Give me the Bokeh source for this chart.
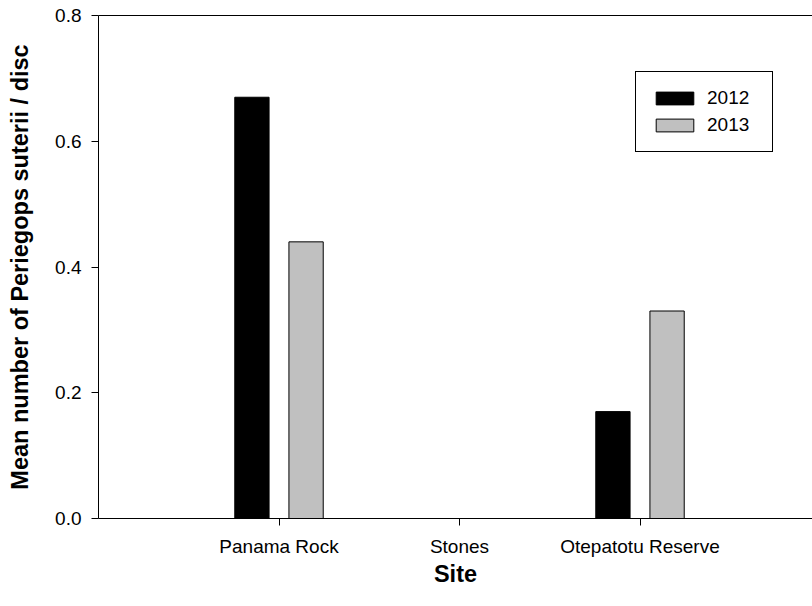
from bokeh.plotting import figure
from bokeh.models import (Range1d, FixedTicker, LinearAxis, Legend, LegendItem)
from bokeh.embed import file_html
from bokeh.resources import INLINE
import numpy as np

sites = ["Panama Rock", "Stones", "Otepatotu Reserve"]
years = ["2012", "2013"]
vals_2012 = [0.67, 0.0, 0.17]
vals_2013 = [0.44, 0.0, 0.33]
y_ticks = [0.0, 0.2, 0.4, 0.6, 0.8]
y_tick_labels = ["0.0", "0.2", "0.4", "0.6", "0.8"]
colors = ["#000000", "#C0C0C0"]

FONT = "Liberation Sans"
W, H = 812, 606
LEFT, BOTTOM, TOP = 98, 88, 15
px_per_unit = 180.5
frame_w = W - LEFT

pos = np.arange(1, len(sites) + 1, dtype=float)

p = figure(width=W, height=H, output_backend="svg", toolbar_location=None,
           x_range=Range1d(0, frame_w / px_per_unit), y_range=Range1d(0, 0.8),
           min_border_left=LEFT, min_border_right=0, min_border_bottom=BOTTOM,
           min_border_top=TOP)
p.outline_line_color = None
p.xgrid.visible = False
p.ygrid.visible = False
p.background_fill_color = "white"
p.border_fill_color = "white"

offset = 0.15
bw = 0.19
r1 = p.vbar(x=pos - offset, top=vals_2012, width=bw, bottom=0,
            fill_color=colors[0], line_color="black", line_width=1)
r2 = p.vbar(x=pos + offset, top=vals_2013, width=bw, bottom=0,
            fill_color=colors[1], line_color="black", line_width=1)

xa = p.xaxis[0]
xa.ticker = FixedTicker(ticks=list(pos))
xa.major_label_overrides = {float(v): s for v, s in zip(pos, sites)}
xa.major_label_overrides.update({int(v): s for v, s in zip(pos, sites)})
xa.axis_label = "Site"
ya = p.yaxis[0]
ya.ticker = FixedTicker(ticks=y_ticks)
ya.major_label_overrides = {v: s for v, s in zip(y_ticks, y_tick_labels)}
ya.axis_label = "Mean number of Periegops suterii / disc"

for ax in (xa, ya):
    ax.axis_line_color = "black"
    ax.axis_line_width = 1
    ax.major_tick_line_color = "black"
    ax.major_tick_out = 7
    ax.major_tick_in = 0
    ax.minor_tick_line_color = None
    ax.major_label_text_font = FONT
    ax.major_label_text_font_size = "19px"
    ax.major_label_text_color = "black"
    ax.axis_label_text_font = FONT
    ax.axis_label_text_font_size = "23.5px"
    ax.axis_label_text_font_style = "bold"
    ax.axis_label_text_color = "black"
    ax.major_label_standoff = 10

xa.axis_label_standoff = 1
ya.axis_label_standoff = 19

top_axis = LinearAxis(axis_line_color="black", ticker=FixedTicker(ticks=[]),
                      major_tick_line_color=None, minor_tick_line_color=None,
                      major_tick_out=0, minor_tick_out=0, major_label_standoff=0,
                      axis_label=None)
p.add_layout(top_axis, "above")

legend = Legend(items=[LegendItem(label=years[0], renderers=[r1]),
                       LegendItem(label=years[1], renderers=[r2])],
                location=(537, 366), orientation="vertical",
                border_line_color="black", border_line_width=1, border_line_alpha=1,
                background_fill_color="white", background_fill_alpha=1,
                label_text_font=FONT, label_text_font_size="19px", label_text_color="black",
                glyph_width=47, glyph_height=16, label_standoff=9, label_width=50,
                padding=15, spacing=5, margin=0, label_height=20)
p.add_layout(legend, "center")

open("out.html", "w").write(file_html(p, INLINE))
